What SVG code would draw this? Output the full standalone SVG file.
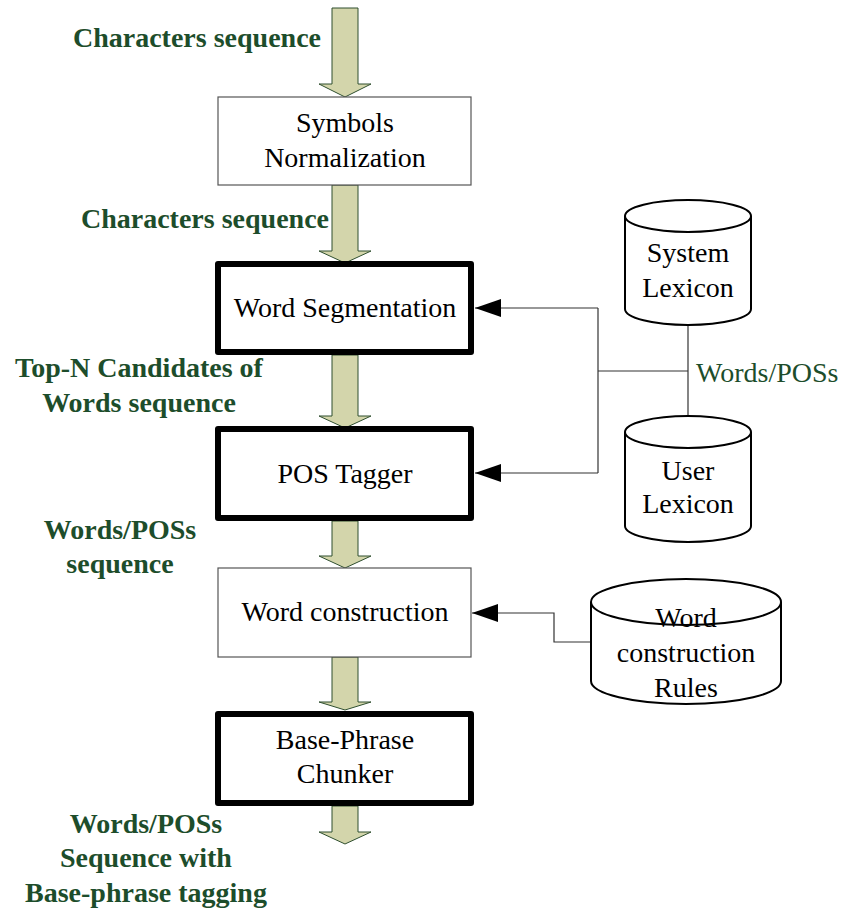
<svg xmlns="http://www.w3.org/2000/svg" width="842" height="909" viewBox="0 0 842 909">
<style>
.flow{fill:#d3d5ab;stroke:#2f4f2f;stroke-width:1}
.thin{fill:#fff;stroke:#555;stroke-width:1.2}
.thick{fill:#fff;stroke:#000;stroke-width:6;stroke-linejoin:round}
.cyl{fill:#fff;stroke:#000;stroke-width:2}
.t{font-family:"Liberation Serif","Times New Roman",serif;font-size:28px;fill:#000;text-anchor:middle}
.lbl{font-family:"Liberation Serif","Times New Roman",serif;font-size:28px;font-weight:bold;fill:#1d4d2b;text-anchor:middle}
.glbl{font-family:"Liberation Serif","Times New Roman",serif;font-size:28px;fill:#1d4d2b}
.conn{fill:none;stroke:#333;stroke-width:1.2}
</style>
<defs>
<marker id="tri" markerUnits="userSpaceOnUse" markerWidth="26" markerHeight="18" viewBox="0 0 26 18" refX="26" refY="9" orient="auto">
<path d="M0,0 L26,9 L0,18 z" fill="#000"/>
</marker>
</defs>
<rect width="842" height="909" fill="#fff"/>
<g id="flow-arrows">
<path class="flow" d="M332,8 H358 V84 H371 L345,97 L319,84 H332 Z"/>
<path class="flow" d="M332,185 H358 V251 H371 L345,263 L319,251 H332 Z"/>
<path class="flow" d="M332,355 H358 V416 H371 L345,428 L319,416 H332 Z"/>
<path class="flow" d="M332,521 H358 V556 H371 L345,568 L319,556 H332 Z"/>
<path class="flow" d="M332,657 H358 V702 H371 L345,710 L319,702 H332 Z"/>
<path class="flow" d="M332,806 H358 V832 H371 L345,844 L319,832 H332 Z"/>
</g>
<g id="labels">
<text class="lbl" x="197" y="47">Characters sequence</text>
<text class="lbl" x="205" y="228">Characters sequence</text>
<text class="lbl" x="139" y="377">Top-N Candidates of</text>
<text class="lbl" x="139" y="412">Words sequence</text>
<text class="lbl" x="120" y="539">Words/POSs</text>
<text class="lbl" x="120" y="573">sequence</text>
<text class="lbl" x="146" y="833">Words/POSs</text>
<text class="lbl" x="146" y="867">Sequence with</text>
<text class="lbl" x="146" y="902">Base-phrase tagging</text>
</g>
<g id="symbols-normalization">
<rect class="thin" x="218" y="97" width="253" height="88"/>
<text class="t" x="345" y="132">Symbols</text>
<text class="t" x="345" y="167">Normalization</text>
</g>
<g id="word-segmentation">
<rect class="thick" x="218" y="264" width="253" height="88"/>
<text class="t" x="345" y="317">Word Segmentation</text>
</g>
<g id="pos-tagger">
<rect class="thick" x="218" y="429" width="253" height="89"/>
<text class="t" x="345" y="483" font-size="27">POS Tagger</text>
</g>
<g id="word-construction">
<rect class="thin" x="218" y="568" width="253" height="89"/>
<text class="t" x="345" y="621">Word construction</text>
</g>
<g id="base-phrase-chunker">
<rect class="thick" x="218" y="714" width="253" height="89"/>
<text class="t" x="345" y="749">Base-Phrase</text>
<text class="t" x="345" y="783">Chunker</text>
</g>
<g id="connectors">
<path class="conn" d="M688,325 V417"/>
<path class="conn" d="M598,371 H688"/>
<path class="conn" d="M598,308 V473"/>
<path class="conn" d="M598,308 H475" marker-end="url(#tri)"/>
<path class="conn" d="M598,473 H475" marker-end="url(#tri)"/>
<path class="conn" d="M591,642 H554 V613 H472" marker-end="url(#tri)"/>
<text class="glbl" x="696" y="382">Words/POSs</text>
</g>
<g id="system-lexicon">
<path class="cyl" d="M625,216 V309 A63,16 0 0 0 751,309 V216"/>
<ellipse class="cyl" cx="688" cy="216" rx="63" ry="16"/>
<text class="t" x="688" y="262">System</text>
<text class="t" x="688" y="297">Lexicon</text>
</g>
<g id="user-lexicon">
<path class="cyl" d="M625,432 V526 A63,16 0 0 0 751,526 V432"/>
<ellipse class="cyl" cx="688" cy="432" rx="63" ry="16"/>
<text class="t" x="688" y="480">User</text>
<text class="t" x="688" y="513">Lexicon</text>
</g>
<g id="word-construction-rules">
<path class="cyl" d="M591,602 V681 A95,23 0 0 0 781,681 V602"/>
<ellipse class="cyl" cx="686" cy="602" rx="95" ry="23"/>
<text class="t" x="686" y="627">Word</text>
<text class="t" x="686" y="662">construction</text>
<text class="t" x="686" y="697">Rules</text>
</g>
</svg>
